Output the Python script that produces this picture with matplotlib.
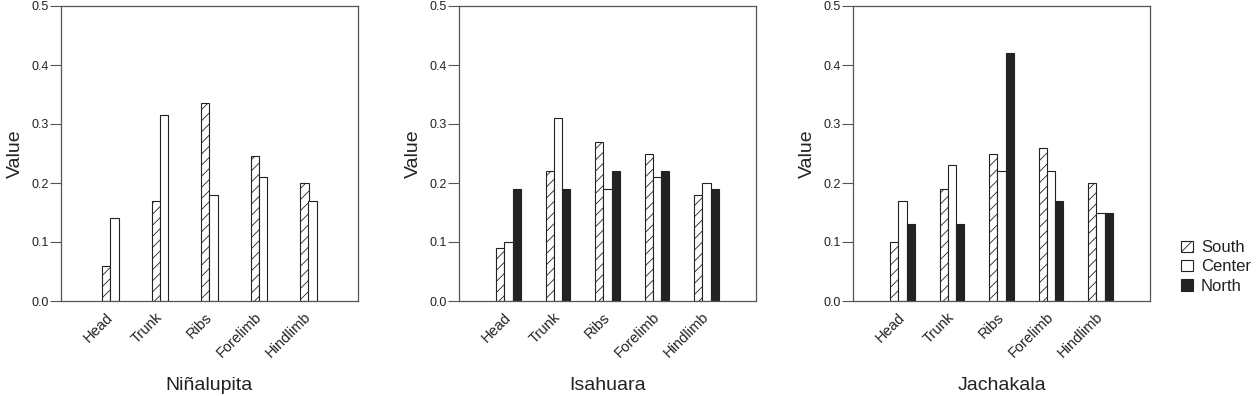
import matplotlib.pyplot as plt
import numpy as np

plt.rcParams['font.family'] = ['Liberation Sans', 'DejaVu Sans']
plt.rcParams['hatch.linewidth'] = 0.6

# data
parts = ["Head", "Trunk", "Ribs", "Forelimb", "Hindlimb"]
sites = ["Niñalupita", "Isahuara", "Jachakala"]

ninalupita_south = [0.06, 0.17, 0.335, 0.245, 0.20]
ninalupita_center = [0.14, 0.315, 0.18, 0.21, 0.17]

isahuara_south = [0.09, 0.22, 0.27, 0.25, 0.18]
isahuara_center = [0.10, 0.31, 0.19, 0.21, 0.20]
isahuara_north = [0.19, 0.19, 0.22, 0.22, 0.19]

jachakala_south = [0.10, 0.19, 0.25, 0.26, 0.20]
jachakala_center = [0.17, 0.23, 0.22, 0.22, 0.15]
jachakala_north = [0.13, 0.13, 0.42, 0.17, 0.15]

series_names = ["South", "Center", "North"]
styles = {
    "South": dict(color="white", hatch="///", edgecolor="#222222"),
    "Center": dict(color="white", edgecolor="#222222"),
    "North": dict(color="#222222", edgecolor="#222222"),
}

panels = [
    {"South": ninalupita_south, "Center": ninalupita_center},
    {"South": isahuara_south, "Center": isahuara_center, "North": isahuara_north},
    {"South": jachakala_south, "Center": jachakala_center, "North": jachakala_north},
]

fig = plt.figure(figsize=(12.57, 3.96), dpi=100)
lefts = [61 / 1257, 459 / 1257, 853 / 1257]
width = 297 / 1257
bottom = (396 - 301) / 396
height = 295 / 396

text_col = "#222222"
bar_w = 1 / 6
x = np.arange(1, len(parts) + 1)

handles = {}
for left, site, panel in zip(lefts, sites, panels):
    ax = fig.add_axes([left, bottom, width, height])
    names = [n for n in series_names if n in panel]
    k = len(names)
    for i, name in enumerate(names):
        offs = (i - (k - 1) / 2) * bar_w
        b = ax.bar(x + offs, panel[name], width=bar_w, linewidth=0.8,
                   label=name, **styles[name])
        handles[name] = b
    ax.set_xlim(0, 6)
    ax.set_ylim(0, 0.5)
    ax.set_yticks([0, 0.1, 0.2, 0.3, 0.4, 0.5])
    ax.set_yticklabels(["0.0", "0.1", "0.2", "0.3", "0.4", "0.5"])
    ax.set_xticks(x)
    ax.set_xticklabels(parts, rotation=45, ha="right", va="center",
                       rotation_mode="anchor", fontsize=10.5, color=text_col)
    ax.tick_params(axis="x", length=0, pad=10)
    ax.tick_params(axis="y", direction="out", length=8, width=0.8,
                   labelsize=9, colors="#555555", labelcolor=text_col, pad=1)
    for sp in ax.spines.values():
        sp.set_color("#555555")
        sp.set_linewidth(0.9)
    ax.set_ylabel("Value", fontsize=14, color=text_col, labelpad=5)
    ax.text(0.5, -0.285, site, transform=ax.transAxes, ha="center",
            va="center", fontsize=14, color=text_col)

fig.legend([handles[n] for n in series_names], series_names,
           loc="center left", bbox_to_anchor=(0.933, 0.326), frameon=False,
           fontsize=12, handlelength=0.7, handleheight=0.7,
           handletextpad=0.5, labelspacing=0.25, borderpad=0,
           labelcolor=text_col)

fig.savefig("out.png", dpi=100)
